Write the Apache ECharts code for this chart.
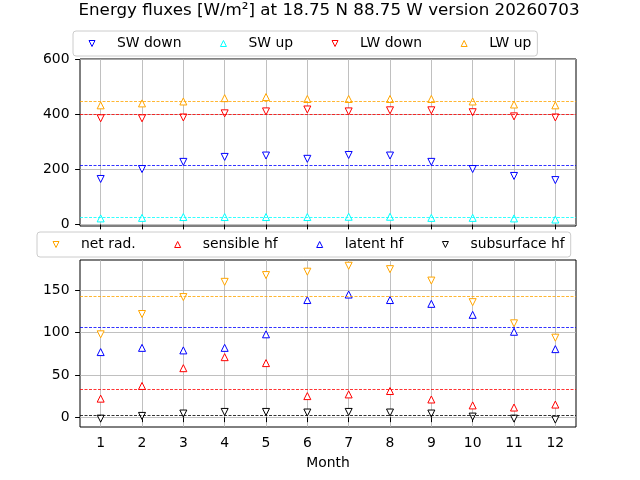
<!DOCTYPE html>
<html>
<head>
<meta charset="utf-8">
<script src="https://cdn.jsdelivr.net/npm/echarts@6/dist/echarts.min.js"></script>
<style>
  html, body { margin: 0; padding: 0; background: #fff; }
  #fluxChart { width: 640px; height: 480px; }
</style>
</head>
<body>
<div id="fluxChart"></div>
<script>
// monthly mean values
const months = [1, 2, 3, 4, 5, 6, 7, 8, 9, 10, 11, 12];
const swDown = [165, 201, 227, 245, 250, 238, 252, 250, 227, 201, 176, 161];
const swUp = [22, 24, 27, 27, 27, 27, 28, 28, 24, 24, 22, 18];
const lwDown = [385, 385, 388, 403, 410, 417, 410, 414, 414, 407, 392, 388];
const lwUp = [432, 439, 446, 458, 462, 455, 455, 455, 455, 446, 435, 432];
const netRad = [98, 122, 142, 160, 168, 172, 179, 175, 161.5, 136, 111, 94];
const sensibleHf = [22, 37, 58, 71, 64, 25, 27, 31, 21, 14, 11.5, 15];
const latentHf = [77, 82, 79, 82, 98, 138.5, 145, 138.5, 134, 121, 101, 80.5];
const subsurfaceHf = [-1.6, 1.6, 4.4, 6.3, 6.3, 5.6, 6.3, 5.6, 4.4, 0.8, -1.6, -2.8];
const topTicks = [0, 200, 400, 600];
const bottomTicks = [0, 50, 100, 150];

const FONT = "DejaVu Sans";
const GRIDCOL = "#b0b0b0";
const TRI_UP = "path://M1,0L2,2L0,2Z";
const TRI_DOWN = "path://M0,0L2,0L1,2Z";

const chart = echarts.init(document.getElementById("fluxChart"));

function pairs(vals) {
  return months.map((m, i) => [m, vals[i]]);
}

// hollow triangle markers + dashed line at the annual mean
function fluxSeries(name, vals, color, down, idx) {
  return {
    name: name,
    type: "scatter",
    xAxisIndex: idx,
    yAxisIndex: idx,
    data: pairs(vals),
    symbol: down ? TRI_DOWN : TRI_UP,
    symbolSize: 7,
    itemStyle: { color: "#fff", borderColor: color, borderWidth: 1, opacity: 1 },
    emphasis: { disabled: true },
    markLine: {
      silent: true,
      symbol: "none",
      label: { show: false },
      lineStyle: { color: color, type: [3, 1.5], width: 0.8 },
      data: [{ type: "average", valueIndex: 1 }],
    },
    z: 3,
  };
}

function xAxisCfg(idx, labels) {
  return {
    gridIndex: idx,
    type: "value",
    min: 0.5,
    max: 12.5,
    axisLine: { show: false },
    axisTick: { show: true, customValues: months, length: 4.9, lineStyle: { color: "#000", width: 1 } },
    axisLabel: {
      show: labels,
      customValues: months,
      margin: 9,
      color: "#000",
      fontFamily: FONT,
      fontSize: 13.9,
    },
    splitLine: { show: true, lineStyle: { color: GRIDCOL, width: 0.8 } },
  };
}

function yAxisCfg(idx, min, max, ticks) {
  return {
    gridIndex: idx,
    type: "value",
    min: min,
    max: max,
    axisLine: { show: false },
    axisTick: { show: true, customValues: ticks, length: 4.9, lineStyle: { color: "#000", width: 1 } },
    axisLabel: { customValues: ticks, margin: 10.5, color: "#000", fontFamily: FONT, fontSize: 13.9 },
    splitLine: { show: true, lineStyle: { color: GRIDCOL, width: 0.8 } },
  };
}

function legendCfg(items, left, top) {
  return {
    data: items.map((it) => ({ name: it[0], icon: it[1] ? TRI_DOWN : TRI_UP })),
    left: left,
    top: top,
    orient: "horizontal",
    itemWidth: 6,
    itemHeight: 6,
    itemGap: 38.5,
    padding: [5, 6, 5, 15.5],
    borderColor: "#cccccc",
    borderWidth: 1,
    borderRadius: 3,
    backgroundColor: "rgba(255,255,255,0.8)",
    selectedMode: false,
    itemStyle: { color: "#fff", borderColor: "inherit", borderWidth: 1 },
    textStyle: { fontFamily: FONT, fontSize: 13.9, color: "#000", padding: [0, 0, 0, 17], lineHeight: 15 },
  };
}

const xTop = xAxisCfg(0, false);
const xBottom = xAxisCfg(1, true);
xBottom.name = "Month";
xBottom.nameLocation = "middle";
xBottom.nameGap = 29;
xBottom.nameTextStyle = { fontFamily: FONT, fontSize: 13.9, color: "#000" };

const option = {
  animation: false,
  backgroundColor: "#fff",
  title: {
    text: "Energy fluxes [W/m²] at 18.75 N 88.75 W version 20260703",
    left: 329,
    top: 1,
    textAlign: "center",
    padding: 0,
    textStyle: { fontFamily: FONT, fontSize: 16.7, fontWeight: "normal", color: "#000", lineHeight: 20 },
  },
  legend: [
    legendCfg([["SW down", true], ["SW up", false], ["LW down", true], ["LW up", false]], 73, 31),
    legendCfg([["net rad.", true], ["sensible hf", false], ["latent hf", false], ["subsurface hf", true]], 37, 232),
  ],
  grid: [
    { left: 80, top: 59, width: 496, height: 167, show: true, borderColor: "#000", borderWidth: 1, backgroundColor: "transparent" },
    { left: 80, top: 260, width: 496, height: 167, show: true, borderColor: "#000", borderWidth: 1, backgroundColor: "transparent" },
  ],
  xAxis: [xTop, xBottom],
  yAxis: [yAxisCfg(0, -5.5, 600, topTicks), yAxisCfg(1, -11.5, 185.8, bottomTicks)],
  series: [
    fluxSeries("SW down", swDown, "#0000ff", true, 0),
    fluxSeries("SW up", swUp, "#00ffff", false, 0),
    fluxSeries("LW down", lwDown, "#ff0000", true, 0),
    fluxSeries("LW up", lwUp, "#ffa500", false, 0),
    fluxSeries("net rad.", netRad, "#ffa500", true, 1),
    fluxSeries("sensible hf", sensibleHf, "#ff0000", false, 1),
    fluxSeries("latent hf", latentHf, "#0000ff", false, 1),
    fluxSeries("subsurface hf", subsurfaceHf, "#000000", true, 1),
  ],
};

chart.setOption(option);
</script>
</body>
</html>
